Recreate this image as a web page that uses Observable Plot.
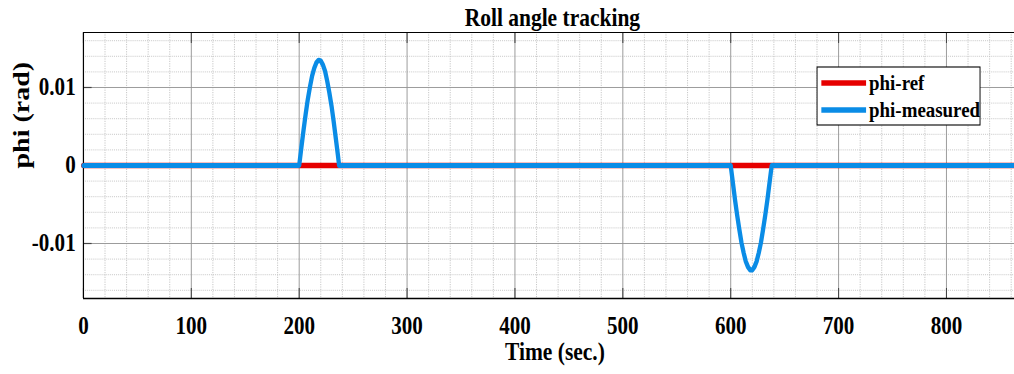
<!DOCTYPE html>
<html>
<head>
<meta charset="utf-8">
<script src="https://cdn.jsdelivr.net/npm/d3@7"></script>
<script src="https://cdn.jsdelivr.net/npm/@observablehq/plot@0.6"></script>
<style>
  html, body { margin: 0; padding: 0; background: #fff; overflow: hidden; }
</style>
</head>
<body>
<div id="chart"></div>
<script>
// ---- data ----
const titleText = "Roll angle tracking";
const xLabelText = "Time (sec.)";
const yLabelText = "phi (rad)";
const seriesNames = ["phi-ref", "phi-measured"];
const seriesColors = ["#e60000", "#0a8ce6"];

const xTicks = [0, 100, 200, 300, 400, 500, 600, 700, 800];
const xTickLabels = ["0", "100", "200", "300", "400", "500", "600", "700", "800"];
const yTicks = [-0.01, 0, 0.01];
const yTickLabels = ["-0.01", "0", "0.01"];

const timeRef = [0, 863];
const phiRef = [0, 0];

const timeMeas = [0, 200, 202, 204, 206, 208, 210, 212, 214, 216, 218, 220, 222, 224, 226, 228, 230, 232, 234, 236, 237,
  600, 602, 604, 606, 608, 610, 612, 614, 616, 618, 620, 622, 624, 626, 628, 630, 632, 634, 636, 638, 863];
const phiMeas = [0, 0, 0.0023, 0.0045, 0.0066, 0.0085, 0.0101, 0.0115, 0.0125, 0.0132, 0.0135, 0.0134, 0.0129, 0.0121, 0.0108, 0.0093, 0.0076, 0.0056, 0.0034, 0.0012, 0,
  0, -0.0022, -0.0044, -0.0064, -0.0082, -0.0099, -0.0112, -0.0123, -0.0130, -0.0134, -0.0134, -0.0130, -0.0123, -0.0112, -0.0099, -0.0082, -0.0064, -0.0044, -0.0022, 0, 0];

const xDomain = [0, 863];
const yDomain = [-0.01705, 0.01705];

// ---- build ----
const refData = timeRef.map((t, i) => ({t, v: phiRef[i]}));
const measData = timeMeas.map((t, i) => ({t, v: phiMeas[i]}));
const xMinor = d3.range(0, 863, 20).filter(d => d % 100 !== 0);
const yMinor = d3.range(-16, 17, 2).map(d => +(d * 0.001).toFixed(4)).filter(d => Math.abs(Math.round(d * 1000)) % 10 !== 0);

const f = 0.86;              // horizontal condensing of the reference
const W = Math.round(1014 / f);
const H = 374;
const font = "'Liberation Serif', 'Times New Roman', serif";
const blank = () => "";

const svg = Plot.plot({
  width: W,
  height: H,
  marginLeft: 83 / f,
  marginRight: 0,
  marginTop: 32,
  marginBottom: 76,
  style: `font-family: ${font}; font-weight: bold; background: #fff; color: #000;`,
  x: {domain: xDomain},
  y: {domain: yDomain},
  marks: [
    Plot.gridX({ticks: xMinor, stroke: "#c4c4c4", strokeOpacity: 1, strokeDasharray: "1.2,1.2"}),
    Plot.gridY({ticks: yMinor, stroke: "#c4c4c4", strokeOpacity: 1, strokeDasharray: "1.2,1.2"}),
    Plot.gridX({ticks: xTicks.filter(d => d > 0), stroke: "#959595", strokeOpacity: 1}),
    Plot.gridY({ticks: yTicks, stroke: "#959595", strokeOpacity: 1}),
    Plot.axisX({anchor: "top", ticks: xTicks, tickSize: -10, tickFormat: blank, label: null, stroke: "#444", strokeWidth: 1.2}),
    Plot.axisX({anchor: "bottom", ticks: xTicks, tickSize: -10, tickFormat: blank, label: null, stroke: "#444", strokeWidth: 1.2}),
    Plot.axisY({anchor: "left", ticks: yTicks, tickSize: -10, tickFormat: blank, label: null, stroke: "#444", strokeWidth: 1.2}),
    Plot.ruleX([xDomain[0]], {stroke: "#000", strokeWidth: 1.4}),
    Plot.ruleY([yDomain[1]], {stroke: "#000", strokeWidth: 1.2}),
    Plot.ruleY([yDomain[0]], {stroke: "#000", strokeWidth: 1.6}),
    Plot.axisX({ticks: xTicks, tickFormat: d => xTickLabels[xTicks.indexOf(d)], tickSize: 0, tickPadding: 18,
      fontSize: 24.5, fontWeight: "bold", label: null}),
    Plot.axisY({ticks: yTicks, tickFormat: d => yTickLabels[yTicks.indexOf(d)], tickSize: 0, tickPadding: 9,
      fontSize: 24.5, fontWeight: "bold", label: null}),
    Plot.line(refData, {x: "t", y: "v", stroke: seriesColors[0], strokeWidth: 5.5}),
    Plot.line(measData, {x: "t", y: "v", stroke: seriesColors[1], strokeWidth: 5, strokeLinejoin: "round"}),
    Plot.text([titleText], {text: d => d, frameAnchor: "top", dx: 4, dy: -15, lineAnchor: "middle",
      fontSize: 25, fontWeight: "bold", fill: "#000"}),
    Plot.text([xLabelText], {text: d => d, frameAnchor: "bottom", dx: 7, dy: 53, lineAnchor: "middle",
      fontSize: 25, fontWeight: "bold", fill: "#000"}),
    Plot.text([yLabelText], {text: d => d, frameAnchor: "left", dx: -72, dy: 3, rotate: -90, lineAnchor: "middle",
      fontSize: 28, fontWeight: "bold", fill: "#000"})
  ]
});

// condense horizontally like the reference image
svg.setAttribute("width", 1014);
svg.setAttribute("height", H);
svg.setAttribute("viewBox", `0 0 ${W} ${H}`);
svg.setAttribute("preserveAspectRatio", "none");
svg.style.width = "1014px";
svg.style.height = H + "px";
svg.style.maxWidth = "none";
svg.style.display = "block";

// legend box (inside the plot, top right)
const lg = d3.select(svg).append("g").attr("font-family", font).attr("font-weight", "bold")
  .attr("text-anchor", "start");
lg.append("rect").attr("x", 950).attr("y", 67).attr("width", 189.5).attr("height", 58)
  .attr("fill", "#fff").attr("stroke", "#000").attr("stroke-width", 1.1);
const rowsY = [83, 110];
seriesNames.forEach((name, i) => {
  lg.append("line").attr("x1", 955).attr("x2", 1007).attr("y1", rowsY[i]).attr("y2", rowsY[i])
    .attr("stroke", seriesColors[i]).attr("stroke-width", 5.5);
  lg.append("text").attr("x", 1010.5).attr("y", rowsY[i] + 7.5).attr("font-size", 22)
    .attr("text-anchor", "start").attr("fill", "#000").text(name);
});

document.getElementById("chart").appendChild(svg);
</script>
</body>
</html>
